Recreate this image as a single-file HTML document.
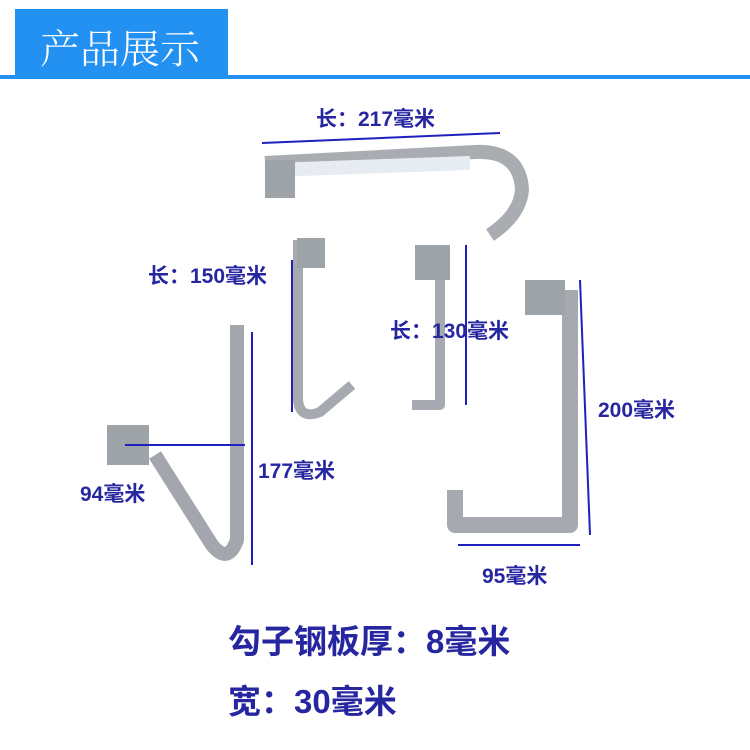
<!DOCTYPE html>
<html><head><meta charset="utf-8"><style>
body{margin:0;width:750px;height:750px;background:#fff;overflow:hidden;position:relative;font-family:"Liberation Sans","Noto Sans CJK SC",sans-serif}
.t{position:absolute;color:#2626a0;white-space:nowrap;font-weight:bold}
</style></head><body>
<div style="position:absolute;left:15px;top:9px;width:213px;height:67px;background:#2391f2"></div>
<div style="position:absolute;left:0;top:75px;width:750px;height:4px;background:#2391f2"></div>
<div style="position:absolute;left:40px;top:18px;color:#fff;font-size:40px;font-family:'Noto Serif CJK SC',serif;font-weight:300">产品展示</div>
<svg width="750" height="750" style="position:absolute;left:0;top:0">
<g fill="none" stroke-linejoin="round">
<path d="M265 163 L475 152 Q520 150 522 190 Q520 215 490 235" stroke="#a9adb2" stroke-width="14"/>
<path d="M272 170 L470 163" stroke="#e6ecf2" stroke-width="14"/>
<rect x="265" y="160" width="30" height="38" fill="#9ea3a8"/>
<path d="M298 240 L298 400 Q300 420 320 412 L352 385" stroke="#a6aab0" stroke-width="10"/>
<rect x="297" y="238" width="28" height="30" fill="#9ea3a8"/>
<path d="M440 245 L440 405 L412 405" stroke="#a6aab0" stroke-width="10"/>
<rect x="415" y="245" width="35" height="35" fill="#9ea3a8"/>
<path d="M237 325 L237 540 Q228 565 212 545 L155 455" stroke="#a3a7ad" stroke-width="14"/>
<rect x="107" y="425" width="42" height="40" fill="#9ea3a8"/>
<path d="M570 290 L570 525 L455 525 L455 490" stroke="#a6aab0" stroke-width="16"/>
<rect x="525" y="280" width="40" height="35" fill="#9ea3a8"/>
</g>
<g stroke="#2020c0" stroke-width="2">
<line x1="262" y1="143" x2="500" y2="133"/>
<line x1="292" y1="260" x2="292" y2="412"/>
<line x1="466" y1="245" x2="466" y2="405"/>
<line x1="252" y1="332" x2="252" y2="565"/>
<line x1="125" y1="445" x2="245" y2="445"/>
<line x1="580" y1="280" x2="590" y2="535"/>
<line x1="458" y1="545" x2="580" y2="545"/>
</g>
</svg>
<div class="t" style="left:316px;top:103px;font-size:21px">长：217毫米</div>
<div class="t" style="left:148px;top:260px;font-size:21px">长：150毫米</div>
<div class="t" style="left:390px;top:315px;font-size:21px">长：130毫米</div>
<div class="t" style="left:598px;top:394px;font-size:21px">200毫米</div>
<div class="t" style="left:258px;top:455px;font-size:21px">177毫米</div>
<div class="t" style="left:80px;top:478px;font-size:21px">94毫米</div>
<div class="t" style="left:482px;top:560px;font-size:21px">95毫米</div>
<div class="t" style="left:228px;top:615px;font-size:33px">勾子钢板厚：8毫米</div>
<div class="t" style="left:228px;top:675px;font-size:33px">宽：30毫米</div>
</body></html>
